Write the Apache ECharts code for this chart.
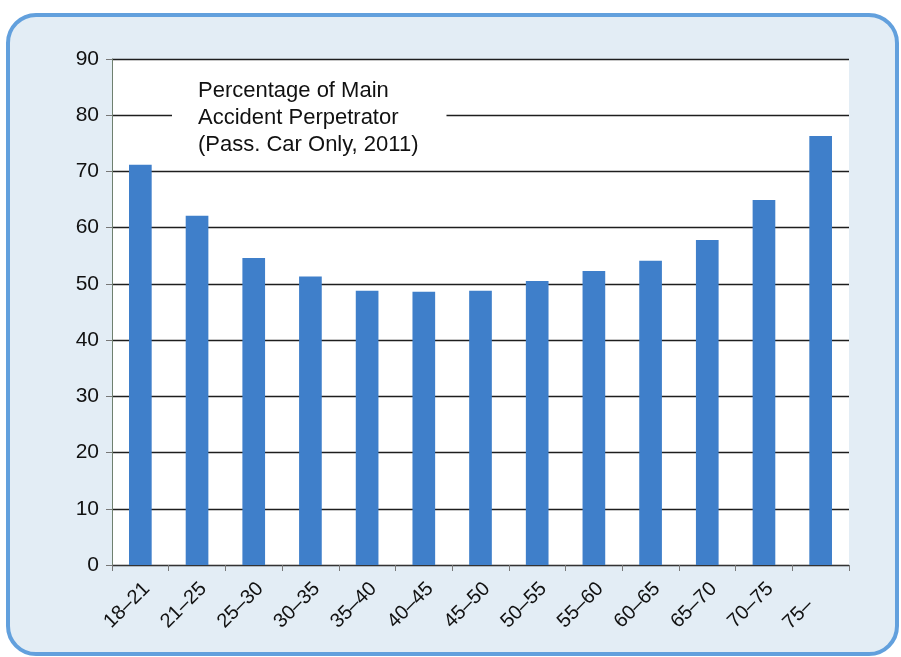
<!DOCTYPE html>
<html>
<head>
<meta charset="utf-8">
<script src="https://cdn.jsdelivr.net/npm/echarts@6/dist/echarts.min.js"></script>
<style>
html,body{margin:0;padding:0;background:#fff;}
#c{width:901px;height:657px;}
</style>
</head>
<body>
<div id="c"></div>
<script>
var categories = ['18\u201321','21\u201325','25\u201330','30\u201335','35\u201340','40\u201345','45\u201350','50\u201355','55\u201360','60\u201365','65\u201370','70\u201375','75\u2013'];
var values = [71.2, 62.1, 54.6, 51.3, 48.8, 48.6, 48.8, 50.5, 52.3, 54.1, 57.8, 64.9, 76.3];
var yTicks = [0, 10, 20, 30, 40, 50, 60, 70, 80, 90];
var titleLines = ['Percentage of Main', 'Accident Perpetrator', '(Pass. Car Only, 2011)'];

var chart = echarts.init(document.getElementById('c'), null, {renderer: 'canvas'});
var font = '"Liberation Sans", Arial, Helvetica, sans-serif';

// the last (short) label sits lower-left in the original layout
var catData = categories.map(function (c, i) {
  if (i === categories.length - 1) {
    return {value: c, textStyle: {padding: [0, 15, 0, 0]}};
  }
  return c;
});

chart.setOption({
  backgroundColor: '#ffffff',
  animation: false,
  graphic: [{
    type: 'rect',
    z: -100,
    silent: true,
    shape: {x: 8, y: 15, width: 889, height: 639, r: 28},
    style: {fill: '#e3edf5', stroke: '#62a0dd', lineWidth: 4}
  }],
  title: {
    text: titleLines.join('\n'),
    left: 172,
    top: 72,
    backgroundColor: '#ffffff',
    padding: [5, 28, 5, 26],
    textStyle: {
      fontFamily: font,
      fontSize: 22,
      fontWeight: 'normal',
      color: '#111',
      lineHeight: 27
    }
  },
  grid: {
    left: 112, top: 59, right: 52, bottom: 92,
    show: true, backgroundColor: '#ffffff', borderWidth: 0
  },
  xAxis: {
    type: 'category',
    data: catData,
    axisLine: {lineStyle: {color: '#333', width: 1.2}},
    axisTick: {show: true, alignWithLabel: false, length: 6, lineStyle: {color: '#777'}},
    axisLabel: {
      rotate: 45, fontFamily: font, fontSize: 20, color: '#111', margin: 27, interval: 0,
      padding: [0, -9, 0, 0]
    }
  },
  yAxis: {
    type: 'value',
    min: yTicks[0], max: yTicks[yTicks.length - 1], interval: 10,
    axisLine: {show: true, lineStyle: {color: '#6f806f', width: 1}},
    axisTick: {show: true, length: 6, lineStyle: {color: '#777'}},
    axisLabel: {fontFamily: font, fontSize: 21, color: '#111', margin: 13},
    splitLine: {show: true, lineStyle: {color: '#1e1e1e', width: 1.3}}
  },
  series: [{
    type: 'bar',
    data: values,
    barWidth: '40%',
    itemStyle: {color: '#3f7fca'},
    z: 1
  }]
});
</script>
</body>
</html>
